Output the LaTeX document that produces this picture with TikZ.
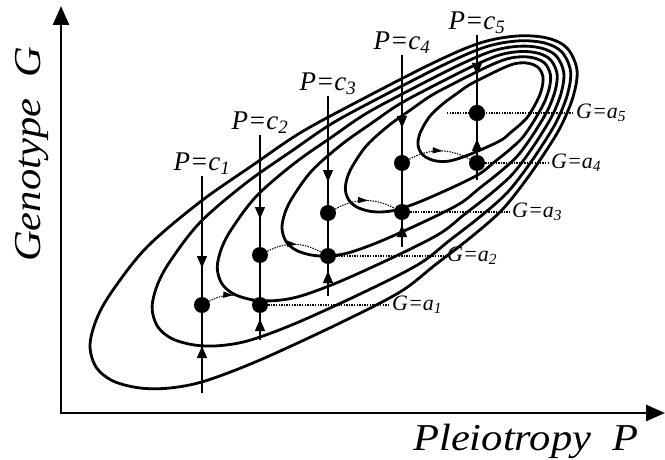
\documentclass[tikz,border=0pt]{standalone}
\usepackage{fontspec}
\setmainfont{Liberation Serif}
\newfontfamily\axisfont{Liberation Serif}[FakeStretch=1.12]
\usetikzlibrary{arrows.meta,decorations.markings}

\newcommand{\sub}[1]{\textsubscript{#1}}

\begin{document}
\begin{tikzpicture}[
  x=1pt, y=-1pt,
  contour/.style={line width=2.8pt, line join=round},
  pline/.style={line width=1.2pt},
  axisline/.style={line width=2.6pt,
    {Triangle[length=19pt,width=16pt]}-{Triangle[length=19pt,width=16pt]}},
  gdots/.style={line width=1.1pt, dash pattern=on 1.4pt off 1.2pt},
  dot/.style={circle, fill=black, inner sep=0pt, minimum size=16pt},
  plbl/.style={font=\fontsize{27}{29}\selectfont\itshape, inner sep=1pt, anchor=south},
  glbl/.style={font=\fontsize{22}{24}\selectfont\itshape, inner sep=2pt, anchor=west},
  axlbl/.style={font=\axisfont\fontsize{38}{40}\selectfont\itshape, inner sep=0pt},
  vmarks/.style 2 args={postaction={decorate, solid}, decoration={markings,
      mark=at position #1 with {\arrow{Triangle[length=12pt,width=10pt]}},
      mark=at position #2 with {\arrowreversed{Triangle[length=12pt,width=10pt]}}}},
  midtip/.style={postaction={decorate, solid}, decoration={markings,
      mark=at position 0.55 with {\arrow{Triangle[length=10pt,width=6pt]}}}},
]
\useasboundingbox (0,0) rectangle (665,460);

% ─── axes ──────────────────────────────────────────────────────────────────
\coordinate (origin) at (61,413);
\coordinate (gtip) at (61,6);
\coordinate (ptip) at (665,413);
\draw[axisline] (gtip) -- (origin) -- (ptip);
\node[axlbl, rotate=90, anchor=base west] (gname) at (40,262) {Genotype\ \ G};
\node[axlbl, anchor=base west] (pname) at (413,450) {Pleiotropy\ \ P};

% ─── fitness contours (one outline, shrunk towards the peak) ───────────────
\foreach \s/\w in {1/1, 0.859/0.88, 0.711/0.75, 0.564/0.62, 0.42/0.49, 0.255/0.34}
  \draw[contour, shift={(530,76)}, rotate=31, xscale=\s, yscale=\w, rotate=-31,
        shift={(-530,-76)}]
    plot[smooth cycle, tension=0.55] coordinates {
      (97,318) (90,345) (96,367) (113,381) (140,388) (170,388) (205,381)
      (260,360) (340,323) (400,292) (435,265) (470,238) (500,212) (520,188)
      (540,160) (560,128) (573,97) (577,70) (567,48) (547,38) (517,36) (480,43)
      (433,63) (355,103) (300,133) (253,165) (200,202) (147,247) (113,290)};

% ─── sections P = c_i ──────────────────────────────────────────────────────
\foreach \n/\x/\t/\b/\d/\u in {1/202/176/393/262/352, 2/260/135/340/213/325,
    3/328/96/296/176/277, 4/402/55/247/122/231, 5/477/35/180/69/145}{
  \pgfmathsetmacro\pd{\d-\t+6}
  \pgfmathsetmacro\pu{\u-\t-6}
  \node[plbl] (c\n) at (\x,\t) {P=c\sub{\n}};
  \coordinate (b\n) at (\x,\b);
  \draw[pline, vmarks={\pd pt}{\pu pt}] (c\n.south) -- (b\n);
}

% ─── optima along each section ─────────────────────────────────────────────
\foreach \n/\x/\y in {1/202/305, 2/260/255, 3/328/213, 4/402/163, 5/477/113}
  \node[dot] (u\n) at (\x,\y) {};
\foreach \n/\x/\y in {2/260/305, 3/328/256, 4/402/212, 5/477/163}
  \node[dot] (l\n) at (\x,\y) {};

\foreach \a/\b in {1/2, 2/3, 3/4, 4/5}
  \draw[gdots, midtip] (u\a) to[bend left=28] (l\b);

% ─── G = a_i levels ────────────────────────────────────────────────────────
\node[glbl] (a1) at (390,305) {G=a\sub{1}};
\node[glbl] (a2) at (445,256) {G=a\sub{2}};
\node[glbl] (a3) at (510,212) {G=a\sub{3}};
\node[glbl] (a4) at (549,163) {G=a\sub{4}};
\node[glbl] (a5) at (574,113) {G=a\sub{5}};
\coordinate (a5from) at (447,113);

\draw[gdots] (l2) -- (a1.west);
\draw[gdots] (l3) -- (a2.west);
\draw[gdots] (l4) -- (a3.west);
\draw[gdots] (l5) -- (a4.west);
\draw[gdots] (a5from) -- (a5.west);
\node[dot] at (u5) {};

\end{tikzpicture}
\end{document}
